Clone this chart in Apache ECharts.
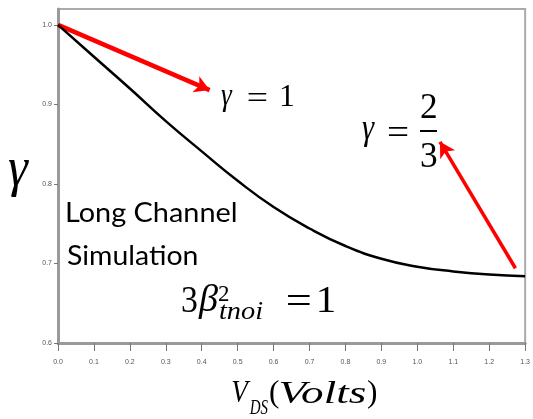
<!DOCTYPE html>
<html>
<head>
<meta charset="utf-8">
<script src="https://cdn.jsdelivr.net/npm/echarts@6/dist/echarts.min.js"></script>
<style>
html,body{margin:0;padding:0;background:#fff;}
#chart{width:533px;height:419px;}
</style>
</head>
<body>
<div id="chart"></div>
<script>
// ---- data ----
const vdsVolts = [0, 0.1, 0.2, 0.3, 0.4, 0.5, 0.6, 0.7, 0.8, 0.9, 1.0, 1.1, 1.2, 1.3];
const gammaValues = [1.0, 0.960, 0.920, 0.879, 0.841, 0.804, 0.771, 0.744, 0.722, 0.706, 0.696, 0.690, 0.686, 0.684];
const xTicks = [0, 0.1, 0.2, 0.3, 0.4, 0.5, 0.6, 0.7, 0.8, 0.9, 1.0, 1.1, 1.2, 1.3];
const yTicks = [0.6, 0.7, 0.8, 0.9, 1.0];
// annotation arrows (data coordinates: start, end)
const arrowGammaOne = [[0, 1.0], [0.422, 0.918]];
const arrowGammaTwoThirds = [[1.273, 0.694], [1.063, 0.853]];

// ---- text helpers ----
const mctx = document.createElement('canvas').getContext('2d');
function fstr(size, family, italic) { return (italic ? 'italic ' : 'normal ') + size + 'px ' + family; }
function ink(str, family, italic, size) {
  mctx.font = fstr(size, family, italic);
  mctx.textBaseline = 'middle';
  mctx.textAlign = 'left';
  const m = mctx.measureText(str);
  return { left: -m.actualBoundingBoxLeft, right: m.actualBoundingBoxRight,
           top: -m.actualBoundingBoxAscent, bottom: m.actualBoundingBoxDescent };
}
function sizeFor(str, family, italic, inkHeight) {
  const m = ink(str, family, italic, 100);
  return 100 * inkHeight / (m.bottom - m.top);
}
// place text so its ink starts at `left`, its ink centre is at `cy`; optional ink right edge
function place(str, family, italic, size, left, cy, right, thin) {
  const m = ink(str, family, italic, size);
  const sx = right ? (right - left) / (m.right - m.left) : 1;
  const style = { text: str, fontSize: size, fontFamily: family, fontStyle: italic ? 'italic' : 'normal',
                  fill: '#000', align: 'left', verticalAlign: 'middle' };
  if (thin) { style.stroke = '#fff'; style.lineWidth = thin; }
  return {
    type: 'text', silent: true, z: 100,
    x: left - m.left * sx, y: cy - (m.top + m.bottom) / 2, scaleX: sx,
    style: style
  };
}
const SERIF = "Liberation Serif";
const SANS = "Lato";

const sTitleY = sizeFor('γ', SERIF, true, 37);
const sX = sizeFor('V', SERIF, true, 21);
const sG1 = sizeFor('1', SERIF, false, 21);
const sG2 = sizeFor('3', SERIF, false, 24);
const sB = sizeFor('3', SERIF, false, 26);
const sLC = sizeFor('L', SANS, false, 20);

const graphics = [
  // y-axis title
  place('γ', SERIF, true, sTitleY, 9, 178.5, 29, 1.2),
  // x-axis title  V_DS(Volts)
  place('V', SERIF, true, sX, 232, 391.5, 251, 0.9),
  place('DS', SERIF, true, sX * 0.7, 249, 407, 268, 0.6),
  place('(', SERIF, false, sX, 270, 394),
  place('Volts', SERIF, true, sX, 280, 391.5, 366, 0.9),
  place(')', SERIF, false, sX, 368, 394),
  // gamma = 1
  place('γ', SERIF, true, sG1, 221, 100.5, 233),
  place('=', SERIF, false, sG1, 248, 97, 267),
  place('1', SERIF, false, sG1, 281, 95.5),
  // gamma = 2/3
  place('γ', SERIF, true, sG2, 362, 134, 375),
  place('=', SERIF, false, sG2, 388, 131.5, 408),
  place('2', SERIF, false, sG2, 421, 106),
  place('3', SERIF, false, sG2, 421, 154.5),
  { type: 'line', silent: true, z: 100, shape: { x1: 420, y1: 131, x2: 437, y2: 131 },
    style: { stroke: '#000', lineWidth: 2 } },
  // Long Channel Simulation
  place('Long Channel', SANS, false, sLC, 67, 214.5, 236),
  place('Simulation', SANS, false, sLC, 67, 254.5, 197),
  // 3 beta^2_tnoi = 1
  place('3', SERIF, false, sB, 182, 299, 197),
  place('β', SERIF, true, sB, 198, 301, 218),
  place('2', SERIF, false, sB * 0.6, 219, 293.5),
  place('tnoi', SERIF, true, sB * 0.66, 220, 310, 263, 0.5),
  place('=', SERIF, false, sB, 287, 300, 310),
  place('1', SERIF, false, sB, 319, 299.5, 334, 0.8)
];

const chart = echarts.init(document.getElementById('chart'), null, { renderer: 'canvas' });
const option = {
  animation: false,
  backgroundColor: '#fff',
  grid: { left: 58, right: 6, top: 9, bottom: 76, show: true, borderColor: '#aaaaaa', borderWidth: 2, backgroundColor: 'transparent' },
  xAxis: {
    type: 'value', min: 0, max: 1.3, interval: 0.1,
    axisLine: { show: true, lineStyle: { color: '#9a9a9a', width: 3 } },
    axisTick: { show: true, length: 8, lineStyle: { color: '#777', width: 1 } },
    axisLabel: { fontSize: 7, color: '#555', margin: 16, fontFamily: 'Liberation Sans',
                 formatter: v => v.toFixed(1) },
    splitLine: { show: false }
  },
  yAxis: {
    type: 'value', min: 0.6, max: 1.02, interval: 0.1,
    axisLine: { show: true, lineStyle: { color: '#9a9a9a', width: 3 } },
    axisTick: { show: true, length: 4, customValues: yTicks, lineStyle: { color: '#777', width: 1 } },
    axisLabel: { fontSize: 7, color: '#555', margin: 6, fontFamily: 'Liberation Sans',
                 customValues: yTicks, formatter: v => v.toFixed(1) },
    splitLine: { show: false }
  },
  series: [{
    type: 'line',
    data: vdsVolts.map((x, i) => [x, gammaValues[i]]),
    smooth: true,
    showSymbol: false,
    lineStyle: { color: '#000', width: 2.5 },
    z: 5,
    markLine: {
      silent: true,
      symbol: ['none', 'arrow'],
      symbolSize: [13, 15],
      label: { show: false },
      emphasis: { disabled: true },
      data: [
        [{ coord: arrowGammaOne[0], lineStyle: { color: '#ff0000', width: 4.5, type: 'solid' } },
         { coord: arrowGammaOne[1] }],
        [{ coord: arrowGammaTwoThirds[0], lineStyle: { color: '#ff0000', width: 3.5, type: 'solid' } },
         { coord: arrowGammaTwoThirds[1] }]
      ]
    }
  }],
  graphic: graphics
};
chart.setOption(option);
</script>
</body>
</html>
